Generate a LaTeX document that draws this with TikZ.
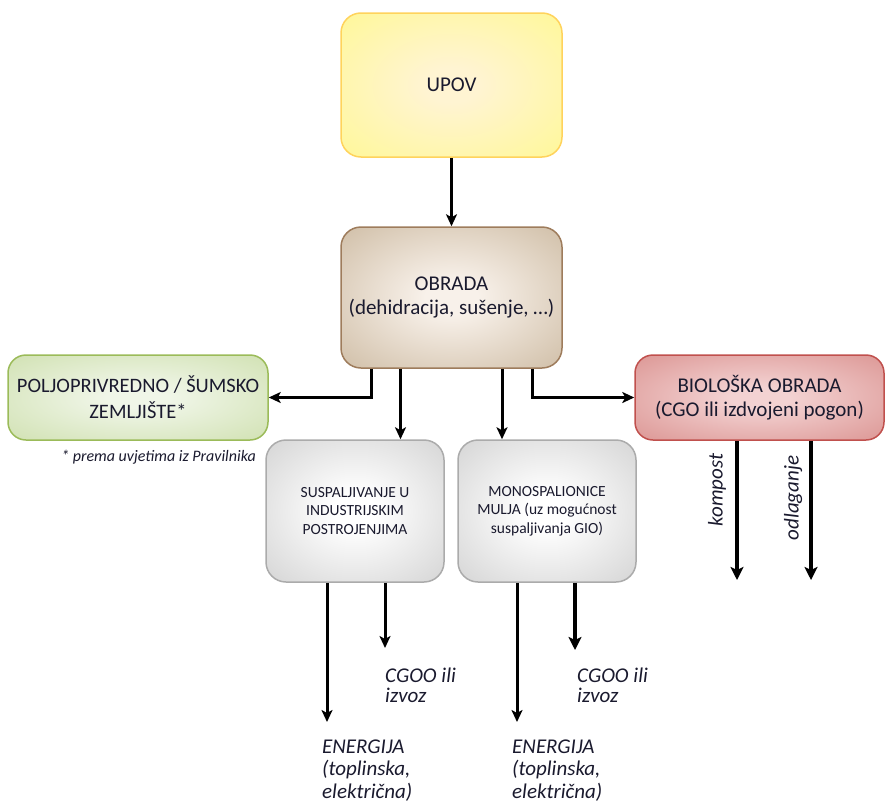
\documentclass[tikz,border=0pt]{standalone}
\usepackage{fontspec}
\setmainfont{Carlito}
\usetikzlibrary{arrows.meta}
\definecolor{yelO}{HTML}{FFF985}
\definecolor{yelI}{HTML}{FFF4D2}
\definecolor{yelB}{HTML}{FFD35C}
\definecolor{tanO}{HTML}{C2AD90}
\definecolor{tanI}{HTML}{F8F1EA}
\definecolor{tanB}{HTML}{9E7C5C}
\definecolor{grnO}{HTML}{C6DAA0}
\definecolor{grnI}{HTML}{F0F6E8}
\definecolor{grnB}{HTML}{9BBB59}
\definecolor{redO}{HTML}{D4827F}
\definecolor{redI}{HTML}{F3D2D2}
\definecolor{redB}{HTML}{C0504D}
\definecolor{gryO}{HTML}{C6C6C6}
\definecolor{gryI}{HTML}{FFFFFF}
\definecolor{gryB}{HTML}{ABABAB}
\definecolor{txt}{HTML}{1A1A2E}
\colorlet{inC}{white}
\colorlet{outC}{black}
\pgfdeclareradialshading[inC,outC]{soft}{\pgfpoint{0bp}{0bp}}{%
  color(0bp)=(inC); color(6bp)=(inC); color(46bp)=(outC); color(80bp)=(outC)}
\tikzset{
  box/.style={rounded corners=20pt, line width=1.5pt, align=center, inner sep=0pt, text=txt},
  sh/.style 2 args={shading=soft, /utils/exec={\colorlet{inC}{#1}\colorlet{outC}{#2}}},
  arr/.style={line width=3pt, -{Stealth[length=12pt,width=11pt,inset=3pt]}},
  arrb/.style={line width=3.8pt, -{Stealth[length=13pt,width=13pt,inset=3pt]}},
  lab/.style={font=\fontsize{21}{22.5}\selectfont\itshape, align=left, inner sep=0pt, anchor=base west, text=txt}
}
\begin{document}
\begin{tikzpicture}[x=1pt,y=-1pt]
\useasboundingbox (0,0) rectangle (885,803);
\node[box, draw=yelB, sh={yelI}{yelO}, minimum width=221pt, minimum height=144pt,
  font=\fontsize{21}{25}\selectfont] (upov) at (451.5,85) {UPOV};
\node[box, draw=tanB, sh={tanI}{tanO}, minimum width=221pt, minimum height=141pt,
  font=\fontsize{21}{24}\selectfont] (obrada) at (451.5,297.5) {OBRADA\\(dehidracija, sušenje, …)};
\node[box, rounded corners=18pt, draw=grnB, sh={grnI}{grnO}, minimum width=260pt, minimum height=85pt,
  font=\fontsize{20.5}{26}\selectfont] (zemlja) at (138,397.5) {POLJOPRIVREDNO / ŠUMSKO\\ZEMLJIŠTE*};
\node[box, rounded corners=18pt, draw=redB, sh={redI}{redO}, minimum width=249pt, minimum height=85pt,
  font=\fontsize{21}{24}\selectfont] (bio) at (759.5,397.5) {BIOLOŠKA OBRADA\\(CGO ili izdvojeni pogon)};
\node[box, draw=gryB, sh={gryI}{gryO}, minimum width=178pt, minimum height=142pt,
  font=\fontsize{15.5}{18.5}\selectfont] (susp) at (355,511) {SUSPALJIVANJE U\\INDUSTRIJSKIM\\POSTROJENJIMA};
\node[box, draw=gryB, sh={gryI}{gryO}, minimum width=178pt, minimum height=142pt,
  font=\fontsize{15.5}{18.5}\selectfont] (mono) at (547,511) {MONOSPALIONICE\\MULJA (uz mogućnost\\suspaljivanja GIO)};
\node[font=\fontsize{16}{18}\selectfont\itshape, text=txt, inner sep=0pt, anchor=east] (note) at (256,457) {* prema uvjetima iz Pravilnika};

\draw[arr] (upov) -- (obrada);
\draw[arr] ([xshift=-80.5pt]obrada.south) |- (zemlja.east);
\draw[arr] ([xshift=81pt]obrada.south) |- (bio.west);
\draw[arr] ([xshift=-51pt]obrada.south) -- ([xshift=-51pt]obrada.south |- susp.north);
\draw[arr] ([xshift=50.5pt]obrada.south) -- ([xshift=50.5pt]obrada.south |- mono.north);

\coordinate (k) at (737,580);
\coordinate (o) at (811,580);
\draw[arrb] (bio.south -| k) -- (k);
\draw[arrb] (bio.south -| o) -- (o);
\node[font=\fontsize{21}{24}\selectfont\itshape, text=txt, rotate=90, inner sep=0pt] (kl) at (717,490) {kompost};
\node[font=\fontsize{21}{24}\selectfont\itshape, text=txt, rotate=90, inner sep=0pt] (ol) at (793,498) {odlaganje};

\coordinate (e1) at (327,722);
\coordinate (c1) at (385,648);
\coordinate (e2) at (517,722);
\coordinate (c2) at (575,650);
\draw[arr] (susp.south -| e1) -- (e1);
\draw[arr] (susp.south -| c1) -- (c1);
\draw[arr] (mono.south -| e2) -- (e2);
\draw[arrb] (mono.south -| c2) -- (c2);

\node[lab, font=\fontsize{21}{20}\selectfont\itshape] (cg1) at (385,702) {CGOO ili\\izvoz};
\node[lab, font=\fontsize{21}{20}\selectfont\itshape] (cg2) at (577,702) {CGOO ili\\izvoz};
\node[lab] (en1) at (322,798) {ENERGIJA\\(toplinska,\\električna)};
\node[lab] (en2) at (512,798) {ENERGIJA\\(toplinska,\\električna)};
\end{tikzpicture}
\end{document}
